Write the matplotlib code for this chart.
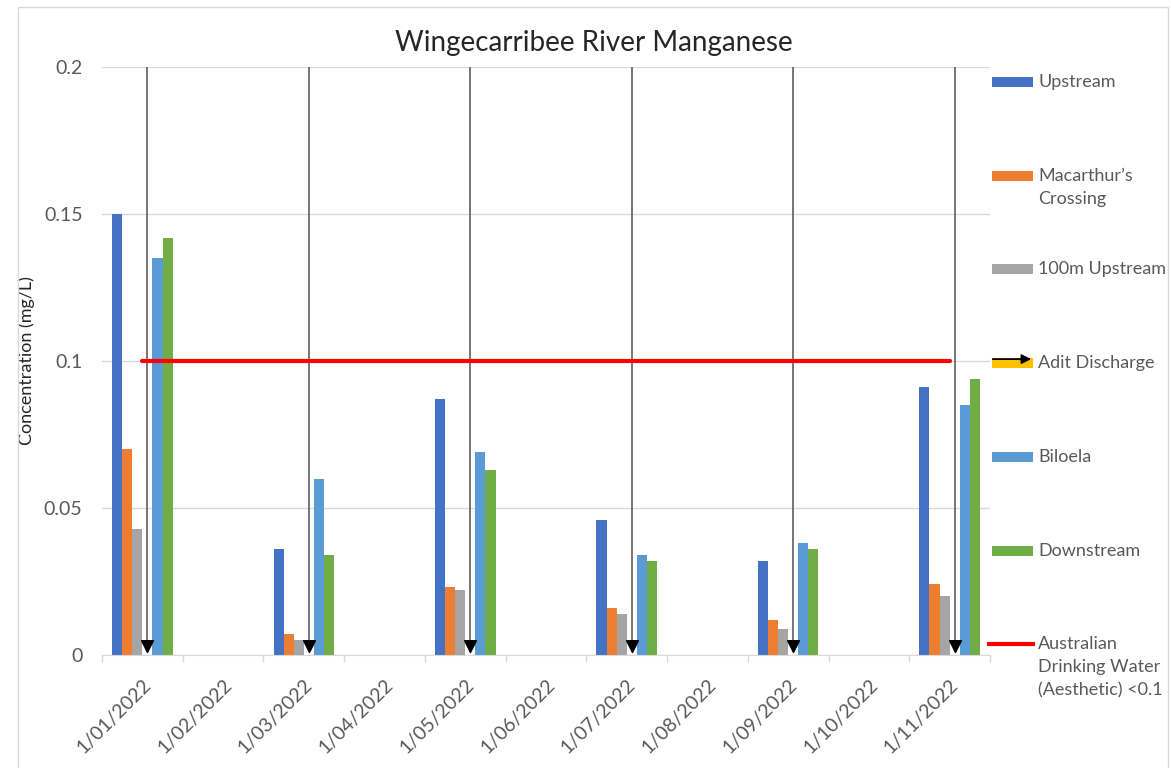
import numpy as np
import matplotlib.pyplot as plt
from matplotlib.patches import Rectangle, FancyArrowPatch
from matplotlib.lines import Line2D
from matplotlib.path import Path

plt.rcParams['font.family'] = ['Lato', 'DejaVu Sans']

months = ["1/01/2022", "1/02/2022", "1/03/2022", "1/04/2022", "1/05/2022", "1/06/2022",
          "1/07/2022", "1/08/2022", "1/09/2022", "1/10/2022", "1/11/2022"]
sample_idx = [0, 2, 4, 6, 8, 10]   # months with samples

upstream = [0.150, 0.036, 0.087, 0.046, 0.032, 0.091]
macarthurs = [0.070, 0.007, 0.023, 0.016, 0.012, 0.024]
upstream_100m = [0.043, 0.005, 0.022, 0.014, 0.009, 0.020]
adit = [0.001, 0.001, 0.001, 0.001, 0.001, 0.001]
biloela = [0.135, 0.060, 0.069, 0.034, 0.038, 0.085]
downstream = [0.142, 0.034, 0.063, 0.032, 0.036, 0.094]
guideline = [0.1, 0.1, 0.1, 0.1, 0.1, 0.1]

series = [
    ("Upstream", upstream, '#4472C4'),
    ("Macarthur\u2019s\nCrossing", macarthurs, '#ED7D31'),
    ("100m Upstream", upstream_100m, '#A5A5A5'),
    ("Adit Discharge", adit, '#FFC000'),
    ("Biloela", biloela, '#5B9BD5'),
    ("Downstream", downstream, '#70AD47'),
]
guide_label = "Australian\nDrinking Water\n(Aesthetic) <0.1"

txt = '#595959'
grid = '#D9D9D9'

fig = plt.figure(figsize=(11.71, 7.68), dpi=100)
W, H = 1171, 768
ax = fig.add_axes([102 / W, 1 - 655 / H, 888 / W, 588 / H])

x = np.array(sample_idx, dtype=float)
bw = 0.125
ymax = 0.2

# down-arrow marker with its tip on the data point
tri = Path([(-0.5, 1), (0.5, 1), (0, 0), (-0.5, 1)],
           [Path.MOVETO, Path.LINETO, Path.LINETO, Path.CLOSEPOLY])

for i, (name, vals, col) in enumerate(series):
    pos = x + (i - 2.5) * bw
    if name == "Adit Discharge":
        ax.vlines(pos, vals, ymax, color='#6a6a6a', lw=1.3, zorder=3)
        ax.plot(pos, vals, ls='none', marker=tri, ms=17, color='black', zorder=4)
    else:
        ax.bar(pos, vals, width=bw, color=col, zorder=2)

ax.plot(x, guideline, color='#FF0000', lw=3, solid_capstyle='round', zorder=3)

ax.set_xlim(-0.5, len(months) - 0.5)
ax.set_ylim(0, ymax)
ax.set_yticks([0, 0.05, 0.1, 0.15, 0.2])
ax.set_yticklabels(["0", "0.05", "0.1", "0.15", "0.2"])
ax.tick_params(axis='y', length=0, pad=14, labelsize=14, labelcolor=txt)
ax.yaxis.grid(True, color=grid, lw=1, zorder=0)

ax.set_xticks(np.arange(-0.5, len(months)), minor=False)
ax.set_xticklabels([])
ax.set_xticks(np.arange(len(months)), minor=True)
ax.set_xticklabels(months, minor=True, rotation=45, ha='right', va='top',
                   rotation_mode='anchor')
ax.tick_params(axis='x', which='major', length=5, color=grid, width=1)
ax.tick_params(axis='x', which='minor', length=0, pad=15, labelsize=14, labelcolor=txt)

for s in ['top', 'right', 'left']:
    ax.spines[s].set_visible(False)
ax.spines['bottom'].set_color(grid)

ax.set_ylabel("Concentration (mg/L)", fontsize=13, color='#262626')
ax.yaxis.set_label_coords(-67 / 888, 0.5)
fig.text(594 / W, 1 - 43 / H, "Wingecarribee River Manganese", fontsize=20,
         color='#262626', ha='center', va='center')

# legend on the right, entries evenly spaced
row0, step = 82, 93.7
for i, (name, vals, col) in enumerate(series):
    yc = row0 + i * step
    fig.add_artist(Rectangle((992 / W, 1 - (yc + 5) / H), 41 / W, 10 / H,
                             facecolor=col, edgecolor='none', transform=fig.transFigure))
    if name == "Adit Discharge":
        fig.add_artist(FancyArrowPatch((990 / W, 1 - (yc - 4) / H), (1034 / W, 1 - (yc - 4) / H),
                                       arrowstyle='-|>', mutation_scale=14, color='black',
                                       lw=1.3, transform=fig.transFigure))
    fig.text(1038 / W, 1 - (yc - 8) / H, name, fontsize=13, color=txt, va='top',
             ha='left', linespacing=1.55)
yc = row0 + 6 * step
fig.add_artist(Line2D([989 / W, 1033 / W], [1 - yc / H, 1 - yc / H], color='#FF0000', lw=3,
                      transform=fig.transFigure))
fig.text(1038 / W, 1 - (yc - 8) / H, guide_label, fontsize=13, color=txt, va='top',
         ha='left', linespacing=1.55)

# chart area border
fig.add_artist(Rectangle((18 / W, -0.01), 1150 / W, 1 - 7 / H + 0.01, facecolor='none',
                         edgecolor=grid, lw=1, transform=fig.transFigure))

fig.savefig('out.png', dpi=100)
